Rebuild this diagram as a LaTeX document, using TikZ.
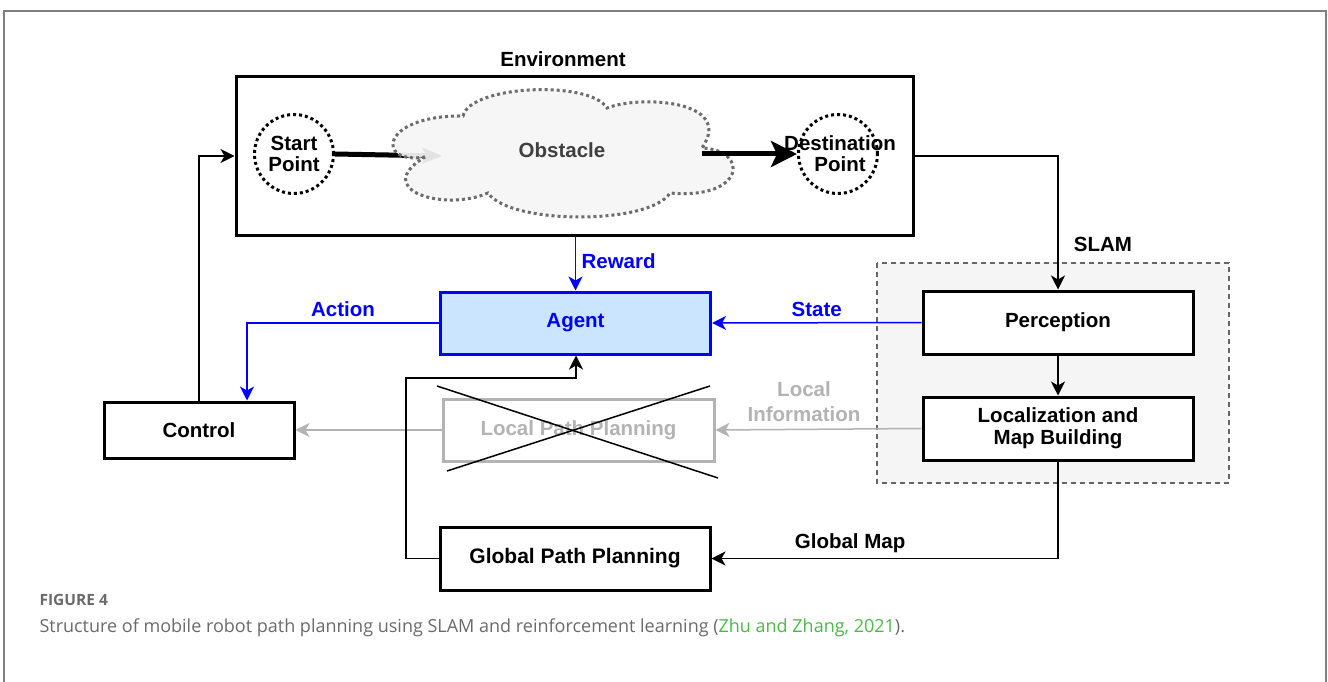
\documentclass[tikz,border=0pt]{standalone}
\usepackage{fontspec}
\setmainfont{Liberation Sans}
\newfontfamily\capfont{Open Sans}
\usetikzlibrary{arrows.meta,shapes.symbols,shapes.geometric}
\definecolor{myblue}{HTML}{0000FF}
\definecolor{agentfill}{HTML}{CCE5FF}
\definecolor{ltgray}{HTML}{B3B3B3}
\definecolor{slamfill}{HTML}{F5F5F5}
\definecolor{capgray}{HTML}{6A6A6A}
\definecolor{capgreen}{HTML}{4DB848}
\tikzset{
  lbl/.style={font=\fontsize{20.5}{23}\selectfont\bfseries},
  box/.style={draw, line width=3pt, minimum width=270pt, minimum height=63pt, align=center, lbl},
  conn/.style={line width=1.5pt, -{Stealth[length=14pt,width=14pt,inset=4pt]}},
  dotcirc/.style={circle, draw, line width=3pt, dash pattern=on 3pt off 3pt, minimum size=79pt, inner sep=0pt},
  thickarr/.style={line width=5pt, -{Stealth[length=26pt,width=26pt,inset=6pt]}},
  cloudline/.style={draw=gray!85!black, fill=slamfill, fill opacity=0.93, line width=3pt, dash pattern=on 3pt off 3pt},
}
\begin{document}
\begin{tikzpicture}[x=1pt,y=-1pt]
\useasboundingbox (0,0) rectangle (1328,682);
% outer frame
\draw[gray, line width=1.5pt] (4,682) -- (4,11) -- (1326,11) -- (1326,682);

% SLAM group
\draw[gray!80!black, fill=slamfill, line width=1.5pt, dash pattern=on 5pt off 4pt] (877,263) rectangle (1229,483);
\node[lbl] (slam) at (1103,244) {SLAM};

% Environment
\node[draw, line width=3pt, minimum width=677pt, minimum height=158pt] (env) at (574.5,156) {};
\node[lbl] (envt) at (563,59) {Environment};
\node[dotcirc] (start) at (294,154) {};
\node[lbl, align=center] (startt) at (294,154) {Start\\[-2pt]Point};
\node[dotcirc] (dest) at (838,154) {};
\node[lbl, align=center] (destt) at (840,154) {Destination\\[-2pt]Point};
\coordinate (obsin) at (442,156);
\draw[line width=5pt, -{Stealth[length=20pt,width=16pt,inset=5pt]}] (start.east) -- (obsin);
% obstacle cloud
\draw[cloudline] (425,157) .. controls (375,165) and (380,115) .. (463,116)
  .. controls (470,85) and (590,80) .. (607,108)
  .. controls (640,95) and (735,100) .. (702,148)
  .. controls (750,150) and (745,200) .. (670,193)
  .. controls (650,225) and (510,225) .. (488,193)
  .. controls (445,212) and (370,190) .. cycle;
\node[font=\fontsize{20.5}{23}\selectfont\bfseries, text=black!75] (obs) at (562,150) {Obstacle};
\coordinate (obsout) at (702,154);
\draw[thickarr] (obsout) -- (dest.west);

% Agent
\node[box, draw=myblue, fill=agentfill, text=myblue, minimum width=270pt, minimum height=62pt] (agent) at (575.5,323) {Agent};

% Perception and Localization
\node[box, fill=white] (perc) at (1058,322.5) {Perception};
\node[box, fill=white] (loc) at (1058,428.5) {Localization and\\[-1pt]Map Building};

% Control
\node[box, minimum width=190pt, minimum height=56pt] (ctrl) at (199,430) {Control};

% Local path planning
\node[box, draw=ltgray, text=ltgray, minimum width=271pt, minimum height=62pt] (lpp) at (578.5,430) {Local Path Planning};
\draw[line width=1.5pt] (437,386) -- (718,478);
\draw[line width=1.5pt] (447,471) -- (710,386);

% Global path planning
\node[box, font=\fontsize{21}{24}\selectfont\bfseries] (gpp) at (575,558.5) {Global Path Planning};

% connectors
\draw[conn, myblue] (agent.north |- env.south) -- node[right, pos=0.45, text=myblue, lbl, xshift=2pt] {Reward} (agent.north);
\draw[conn, myblue] (perc.west) -- node[above, text=myblue, lbl, yshift=2pt] {State} (agent.east);
\coordinate (actcorner) at (247,323);
\draw[conn, myblue] (agent.west) -- node[above, text=myblue, lbl, yshift=2pt, pos=0.5] {Action} (actcorner) -- (actcorner |- ctrl.north);
\draw[conn] (ctrl.north) |- (env.west);
\coordinate (envr) at (1058,156);
\draw[conn] (env.east) -- (envr) -- (perc.north);
\draw[conn] (perc.south) -- (loc.north);
\draw[conn, ltgray] (loc.west) -- (lpp.east);
\node[lbl, text=ltgray, align=center] (locinfo) at (804,402) {Local\\[2pt]Information};
\draw[conn, ltgray] (lpp.west) -- (ctrl.east);
\coordinate (gmcorner) at (1058,558.5);
\draw[conn] (loc.south) -- (gmcorner) -- node[above, lbl, pos=0.6, yshift=2pt] {Global Map} (gpp.east);
\coordinate (gl1) at (406,558.5);
\coordinate (gl2) at (406,378);
\coordinate (gl3) at (576,378);
\draw[conn] (gpp.west) -- (gl1) -- (gl2) -- (gl3) -- (gl3 |- agent.south);

% caption
\node[anchor=west, font=\capfont\fontsize{15.5}{18}\selectfont\bfseries, text=capgray] (fig) at (36,600) {FIGURE 4};
\node[anchor=west, font=\capfont\fontsize{18}{21}\selectfont, text=capgray] (cap) at (36,628) {Structure of mobile robot path planning using SLAM and reinforcement learning (\textcolor{capgreen}{Zhu and Zhang, 2021}).};
\end{tikzpicture}
\end{document}
